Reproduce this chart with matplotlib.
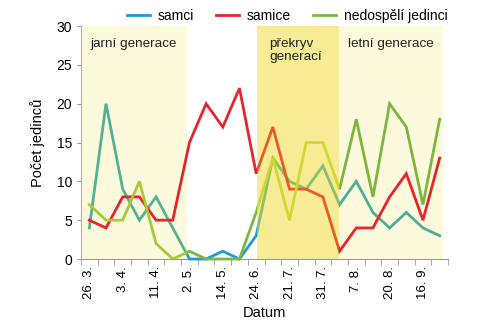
import matplotlib.pyplot as plt
from matplotlib.patches import Rectangle
from matplotlib.lines import Line2D

plt.rcParams['font.family'] = ['Liberation Sans', 'DejaVu Sans']

dates = ['26. 3.', '', '3. 4.', '', '11. 4.', '', '2. 5.', '', '14. 5.', '', '24. 6.',
         '', '21. 7.', '', '31. 7.', '', '7. 8.', '', '20. 8.', '', '16. 9.', '']
samci = [4, 20, 9, 5, 8, 4, 0, 0, 1, 0, 3, 13, 10, 9, 12, 7, 10, 6, 4, 6, 4, 3]
samice = [5, 4, 8, 8, 5, 5, 15, 20, 17, 22, 11, 17, 9, 9, 8, 1, 4, 4, 8, 11, 5, 13]
nedospeli = [7, 5, 5, 10, 2, 0, 1, 0, 0, 0, 6, 13, 5, 15, 15, 9, 18, 8, 20, 17, 7, 18]

# zones: (start, end, background, label)
zones = [(-0.5, 5.83, '#fdf9dc', 'jarní generace'),
         (5.83, 10.05, 'white', None),
         (10.05, 14.96, '#f8eb96', 'překryv\ngenerací'),
         (14.96, 21.2, '#fdf9dc', 'letní generace'),
         (21.2, 21.5, 'white', None)]

# line colour per zone (the original shows lines tinted by the background)
series = [
    ('samci', samci, ['#55b196', '#1d9ad8', '#86c267', '#4fae98', '#1d9ad8']),
    ('samice', samice, ['#e4252c', '#e4252c', '#ea5a26', '#e4252c', '#e4252c']),
    ('nedospělí jedinci', nedospeli, ['#a6c93a', '#7cb844', '#cdd92e', '#7db63c', '#7cb844']),
]

fig = plt.figure(figsize=(5, 3.26), dpi=100)
ax = fig.add_axes([0.162, 0.2055, 0.734, 0.7145])

x = list(range(len(dates)))
for x0, x1, bg, lab in zones:
    if bg != 'white':
        ax.axvspan(x0, x1, color=bg, zorder=0, lw=0)

for name, vals, cols in series:
    for (x0, x1, bg, lab), c in zip(zones, cols):
        ln, = ax.plot(x, vals, color=c, lw=2, zorder=3, solid_joinstyle='miter')
        ln.set_clip_path(Rectangle((x0, -5), x1 - x0, 40, transform=ax.transData))

ax.text(0.05, 27.7, 'jarní generace', fontsize=9.7, va='center', color='#222222')
ax.text(10.8, 26.9, 'překryv\ngenerací', fontsize=9.7, va='center', color='#222222',
        linespacing=1.1)
ax.text(15.5, 27.7, 'letní generace', fontsize=9.7, va='center', color='#222222')

ax.set_xlim(-0.5, len(dates) - 0.5)
ax.set_ylim(0, 30)
ax.set_yticks(range(0, 31, 5))
ax.set_xticks(x)
ax.set_xticklabels(dates, rotation=90, fontsize=9.5)
ax.set_xticks([i + 0.5 for i in range(-1, len(dates))], minor=True)
ax.tick_params(axis='x', which='major', length=0, pad=5)
ax.tick_params(axis='x', which='minor', length=4, color='#999999')
ax.tick_params(axis='y', length=3, color='#999999', labelsize=10)
for s in ['top', 'right']:
    ax.spines[s].set_visible(False)
ax.spines['left'].set_color('#a8b8a8')
ax.spines['bottom'].set_color('#999999')

ax.set_xlabel('Datum', fontsize=10.5, labelpad=5)
ax.set_ylabel('Počet jedinců', fontsize=10.5, labelpad=8)

handles = [Line2D([], [], color=cols[1], lw=2) for _, _, cols in series]
fig.legend(handles, [s[0] for s in series], loc='center', bbox_to_anchor=(0.575, 0.95),
           ncol=3, frameon=False, fontsize=10, handlelength=1.6, columnspacing=1.6,
           handletextpad=0.6)

fig.savefig('out.png', dpi=100)
